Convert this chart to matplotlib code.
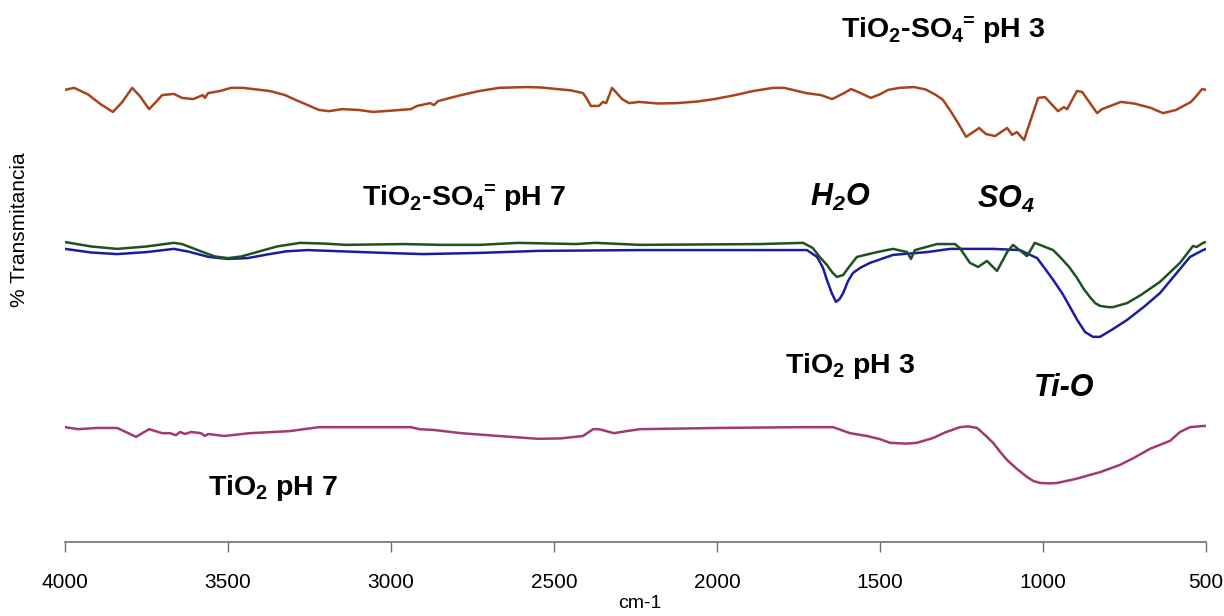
import matplotlib.pyplot as plt

# FTIR spectra of TiO2 samples (wavenumber in cm-1, transmittance with vertical offsets)
wn_so4_ph3 = [4000, 3972, 3930, 3890, 3853, 3825, 3794, 3770, 3742, 3722, 3702, 3666, 3641,
              3607, 3577, 3571, 3561, 3525, 3491, 3454, 3371, 3325, 3290, 3255, 3221, 3190,
              3150, 3100, 3055, 3021, 2939, 2920, 2880, 2868, 2856, 2785, 2730, 2669, 2586,
              2540, 2491, 2450, 2411, 2400, 2387, 2362, 2350, 2340, 2322, 2291, 2270, 2239,
              2180, 2123, 2060, 2009, 1950, 1890, 1828, 1794, 1727, 1681, 1647, 1610, 1589,
              1565, 1528, 1500, 1475, 1440, 1396, 1360, 1328, 1307, 1285, 1261, 1236, 1196,
              1175, 1147, 1110, 1095, 1080, 1058, 1046, 1015, 994, 954, 936, 926, 896, 880,
              834, 819, 761, 720, 669, 632, 592, 546, 525, 512, 500]
t_so4_ph3 = [112.6, 113.1, 111.5, 109.0, 107.1, 109.5, 113.1, 111.0, 107.8, 109.5, 111.3, 111.6,
             110.6, 110.3, 111.3, 110.6, 111.8, 112.3, 113.1, 113.1, 112.3, 111.3, 110.0, 108.8,
             107.6, 107.3, 107.8, 107.6, 107.1, 107.3, 107.8, 108.6, 109.3, 108.8, 109.8, 111.3,
             112.3, 113.1, 113.3, 113.2, 112.8, 112.5, 111.8, 110.5, 108.6, 108.6, 109.6, 109.3,
             113.1, 110.3, 109.3, 109.6, 109.2, 109.3, 109.7, 110.3, 111.2, 112.3, 113.1, 113.1,
             111.8, 111.3, 110.3, 111.8, 112.8, 112.0, 110.6, 111.5, 112.6, 113.1, 113.3, 112.7,
             111.3, 110.1, 107.5, 104.4, 100.9, 103.1, 101.6, 101.1, 103.1, 101.4, 102.1, 100.1,
             103.1, 110.6, 110.8, 107.3, 108.3, 107.8, 112.3, 112.1, 106.8, 107.8, 109.6, 109.2,
             108.1, 106.8, 107.6, 109.6, 111.5, 112.8, 112.6]

wn_so4_ph7 = [4000, 3920, 3840, 3750, 3666, 3641, 3580, 3540, 3500, 3460, 3420, 3350, 3279,
              3200, 3138, 2960, 2844, 2727, 2610, 2433, 2374, 2236, 1868, 1736, 1706, 1685,
              1663, 1645, 1632, 1613, 1595, 1571, 1509, 1460, 1417, 1405, 1393, 1325, 1270,
              1255, 1224, 1199, 1172, 1141, 1110, 1092, 1049, 1025, 969, 948, 920, 896, 875,
              856, 840, 825, 800, 785, 742, 700, 641, 580, 540, 528, 509, 500]
t_so4_ph7 = [74.7, 73.6, 73.0, 73.6, 74.5, 74.2, 72.3, 71.1, 70.7, 71.1, 72.0, 73.6, 74.5,
             74.3, 74.0, 74.2, 74.0, 74.0, 74.5, 74.2, 74.5, 74.0, 74.2, 74.5, 73.2, 71.0,
             69.0, 67.0, 66.0, 66.5, 68.5, 71.0, 72.2, 73.0, 72.2, 70.5, 72.7, 74.2, 74.2,
             73.2, 69.5, 68.5, 70.0, 67.5, 72.2, 74.0, 71.2, 74.5, 72.7, 71.0, 68.5, 65.8,
             63.0, 61.0, 59.5, 58.8, 58.5, 58.5, 59.5, 61.5, 64.8, 69.5, 73.7, 73.5, 74.5,
             74.7]

wn_tio2_ph3 = [4000, 3920, 3840, 3750, 3666, 3620, 3560, 3500, 3440, 3380, 3320, 3255, 3021,
               2902, 2727, 2549, 2236, 1868, 1724, 1693, 1675, 1663, 1648, 1635, 1624, 1613,
               1598, 1583, 1560, 1531, 1460, 1356, 1285, 1153, 1071, 1018, 995, 969, 940, 917,
               895, 871, 847, 825, 790, 742, 690, 641, 595, 549, 509, 500]
t_tio2_ph3 = [73.0, 72.1, 71.7, 72.2, 73.0, 72.3, 71.0, 70.5, 70.7, 71.6, 72.4, 72.7, 72.0,
              71.7, 72.0, 72.5, 72.7, 72.7, 72.7, 71.0, 68.3, 65.3, 62.0, 59.8, 60.5, 62.0,
              65.0, 67.0, 68.3, 69.5, 71.5, 72.2, 73.0, 73.0, 72.7, 70.7, 68.2, 65.3, 61.8,
              58.5, 55.3, 52.3, 51.1, 51.1, 52.8, 55.3, 58.6, 62.0, 66.5, 71.0, 72.7, 73.0]

wn_tio2_ph7 = [4000, 3960, 3902, 3840, 3782, 3742, 3702, 3678, 3660, 3647, 3632, 3613, 3583,
               3571, 3561, 3512, 3433, 3313, 3221, 3021, 2939, 2914, 2868, 2785, 2669, 2549,
               2480, 2411, 2380, 2362, 2316, 2279, 2236, 2000, 1745, 1644, 1592, 1540, 1500,
               1469, 1420, 1387, 1337, 1300, 1255, 1230, 1202, 1180, 1153, 1130, 1110, 1080,
               1049, 1030, 1009, 980, 957, 900, 825, 764, 720, 672, 610, 580, 549, 509, 500]
t_tio2_ph7 = [28.6, 28.1, 28.4, 28.4, 26.2, 28.1, 27.1, 27.1, 26.6, 27.4, 26.9, 27.4, 27.1,
              26.4, 26.9, 26.4, 27.1, 27.6, 28.6, 28.6, 28.6, 28.1, 27.9, 27.1, 26.4, 25.7,
              25.8, 26.4, 28.1, 28.1, 27.1, 27.6, 28.1, 28.4, 28.6, 28.6, 27.1, 26.4, 25.6,
              24.7, 24.5, 24.7, 25.9, 27.3, 28.6, 28.8, 28.4, 26.8, 24.7, 22.3, 20.4, 18.2,
              16.2, 15.2, 14.7, 14.6, 14.7, 15.7, 17.4, 19.2, 21.0, 23.2, 25.2, 27.4, 28.6,
              28.9, 28.9]

xticks = [4000, 3500, 3000, 2500, 2000, 1500, 1000, 500]

plt.rcParams['font.family'] = ['Liberation Sans', 'DejaVu Sans']
plt.rcParams['mathtext.default'] = 'regular'

fig = plt.figure(figsize=(12.24, 6.16), dpi=100)
ax = fig.add_axes([65 / 1224, 74 / 616, 1141 / 1224, 522 / 616])

ax.plot(wn_so4_ph3, t_so4_ph3, color='#A8441C', lw=1.8)
ax.plot(wn_tio2_ph3, t_tio2_ph3, color='#1C1CA0', lw=1.8)
ax.plot(wn_so4_ph7, t_so4_ph7, color='#1E5220', lw=1.8)
ax.plot(wn_tio2_ph7, t_tio2_ph7, color='#A03A70', lw=1.8)

ax.set_xlim(4000, 500)
ax.set_ylim(0, 130)
ax.set_xticks(xticks)
ax.set_xticklabels([str(t) for t in xticks], fontsize=15)
ax.set_yticks([])
for s in ['left', 'right', 'top']:
    ax.spines[s].set_visible(False)
ax.spines['bottom'].set_color('#707070')
ax.spines['bottom'].set_linewidth(1.2)
ax.tick_params(axis='x', direction='out', length=7, width=1, color='#707070', pad=15)

# axis titles
fig.text(640 / 1224, 1 - 604 / 616, 'cm-1', fontsize=14, ha='center', va='center')
fig.text(20 / 1224, 1 - 230 / 616, '% Transmitancia', rotation=90, fontsize=15,
         ha='center', va='center')

# sample labels and band assignments
lab = dict(fontsize=20.5, fontweight='bold', ha='center', va='center')
ax.text(1307, 127.5, r'TiO$_2$-SO$_4\!{}^{=}\!$ pH 3', **lab)
ax.text(2776, 85.7, r'TiO$_2$-SO$_4\!{}^{=}\!$ pH 7', **lab)
ax.text(1592, 43.8, r'TiO$_2$ pH 3', **lab)
ax.text(3362, 13.4, r'TiO$_2$ pH 7', **lab)

band = dict(fontsize=22, fontweight='bold', style='italic', ha='center', va='center')
ax.text(1623, 85.7, r'H$_2$O', **band)
ax.text(1114, 85.2, r'SO$_4$', **band)
ax.text(936, 38.4, 'Ti-O', **band)

fig.savefig('out.png', dpi=100)
